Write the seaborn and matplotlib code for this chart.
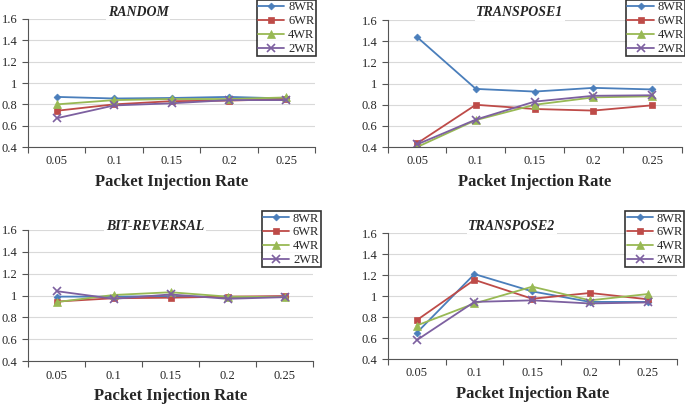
import numpy as np
import pandas as pd
import matplotlib
matplotlib.use("Agg")
import matplotlib.pyplot as plt
import seaborn as sns

# Data
rates = ["0.05", "0.1", "0.15", "0.2", "0.25"]
series = ["8WR", "6WR", "4WR", "2WR"]

random_8 = [0.87, 0.855, 0.86, 0.87, 0.855]
random_6 = [0.74, 0.80, 0.83, 0.835, 0.85]
random_4 = [0.80, 0.84, 0.85, 0.85, 0.865]
random_2 = [0.67, 0.79, 0.81, 0.84, 0.84]

transpose1_8 = [1.44, 0.95, 0.925, 0.96, 0.945]
transpose1_6 = [0.435, 0.80, 0.76, 0.745, 0.795]
transpose1_4 = [0.40, 0.655, 0.80, 0.87, 0.88]
transpose1_2 = [0.425, 0.66, 0.83, 0.885, 0.89]

bitrev_8 = [0.99, 0.99, 0.995, 0.985, 0.99]
bitrev_6 = [0.945, 0.975, 0.98, 0.99, 0.995]
bitrev_4 = [0.94, 1.005, 1.03, 0.99, 0.985]
bitrev_2 = [1.04, 0.97, 1.01, 0.97, 0.985]

transpose2_8 = [0.65, 1.21, 1.045, 0.945, 0.945]
transpose2_6 = [0.77, 1.155, 0.975, 1.03, 0.97]
transpose2_4 = [0.72, 0.93, 1.09, 0.96, 1.02]
transpose2_2 = [0.58, 0.945, 0.96, 0.93, 0.94]

panels = [
    ("RANDOM", [random_8, random_6, random_4, random_2]),
    ("TRANSPOSE1", [transpose1_8, transpose1_6, transpose1_4, transpose1_2]),
    ("BIT-REVERSAL", [bitrev_8, bitrev_6, bitrev_4, bitrev_2]),
    ("TRANSPOSE2", [transpose2_8, transpose2_6, transpose2_4, transpose2_2]),
]

colors = {"8WR": "#4A7EBB", "6WR": "#BE4B48", "4WR": "#98B954", "2WR": "#7D60A0"}
markers = {"8WR": "D", "6WR": "s", "4WR": "^", "2WR": "x"}
msizes = {"8WR": 3.5, "6WR": 5, "4WR": 5.5, "2WR": 5.5}

sns.set_theme(style="white")
plt.rcParams["font.family"] = ["Liberation Serif", "DejaVu Serif"]

fig = plt.figure(figsize=(6.85, 4.04), dpi=100)

# axes rectangles (left, bottom, width, height) in figure fraction
rects = [
    (0.041, 0.636, 0.419, 0.317),
    (0.566, 0.636, 0.429, 0.314),
    (0.041, 0.106, 0.416, 0.325),
    (0.566, 0.111, 0.422, 0.312),
]
# title centres (px) and legend upper-right anchors (figure fraction)
title_pos = [(138, 12), (520, 13), (155, 226), (512, 226)]
legend_anchor = [(0.461, 1.0), (1.0, 1.0), (0.468, 0.477), (0.999, 0.477)]

for (name, vals), rect, tpos, lanc in zip(panels, rects, title_pos, legend_anchor):
    ax = fig.add_axes(rect)
    rows = []
    for s, v in zip(series, vals):
        for i, y in enumerate(v):
            rows.append({"pos": i, "value": y, "series": s})
    df = pd.DataFrame(rows)

    for s in series:
        sub = df[df.series == s]
        sns.lineplot(data=sub, x="pos", y="value", ax=ax, color=colors[s],
                     marker=markers[s], markersize=msizes[s],
                     markeredgecolor=colors[s], markeredgewidth=1.2 if s == "2WR" else 0.5,
                     linewidth=1.3, label=s)

    ax.set_xlim(-0.5, 4.5)
    ax.set_ylim(0.4, 1.6)
    yt = [0.4, 0.6, 0.8, 1.0, 1.2, 1.4, 1.6]
    ax.set_yticks(yt)
    ax.set_yticklabels(["0.4", "0.6", "0.8", "1", "1.2", "1.4", "1.6"], fontsize=9)
    ax.yaxis.grid(True, color="#d9d9d9", linewidth=0.8)
    ax.xaxis.grid(False)
    ax.set_axisbelow(True)

    ax.set_xticks(range(len(rates)))
    ax.set_xticklabels(rates, fontsize=9)
    ax.set_xticks(np.arange(-0.5, 5, 1), minor=True)
    ax.tick_params(axis="x", which="major", length=0, pad=6)
    ax.tick_params(axis="x", which="minor", length=4, width=0.8, color="#555555", bottom=True)
    ax.tick_params(axis="y", length=4, width=0.8, color="#555555", left=True, pad=3.5)

    for sp in ["top", "right"]:
        ax.spines[sp].set_visible(False)
    for sp in ["left", "bottom"]:
        ax.spines[sp].set_color("#555555")
        ax.spines[sp].set_linewidth(0.8)

    ax.set_xlabel("Packet Injection Rate", fontsize=12, fontweight="bold", labelpad=5)
    ax.set_ylabel(None)

    fig.text(tpos[0] / 685, 1 - tpos[1] / 404, name, ha="center", va="center",
             fontsize=10, fontweight="bold", fontstyle="italic",
             bbox=dict(facecolor="white", edgecolor="none", pad=1))

    leg = ax.legend(loc="upper right", bbox_to_anchor=lanc, bbox_transform=fig.transFigure,
                    fontsize=9, frameon=True, fancybox=False, borderpad=0.1,
                    labelspacing=0.15, handlelength=2.1, handletextpad=0.3,
                    borderaxespad=0)
    leg.get_frame().set_edgecolor("black")
    leg.get_frame().set_linewidth(1.2)

fig.savefig("out.png", dpi=100)
